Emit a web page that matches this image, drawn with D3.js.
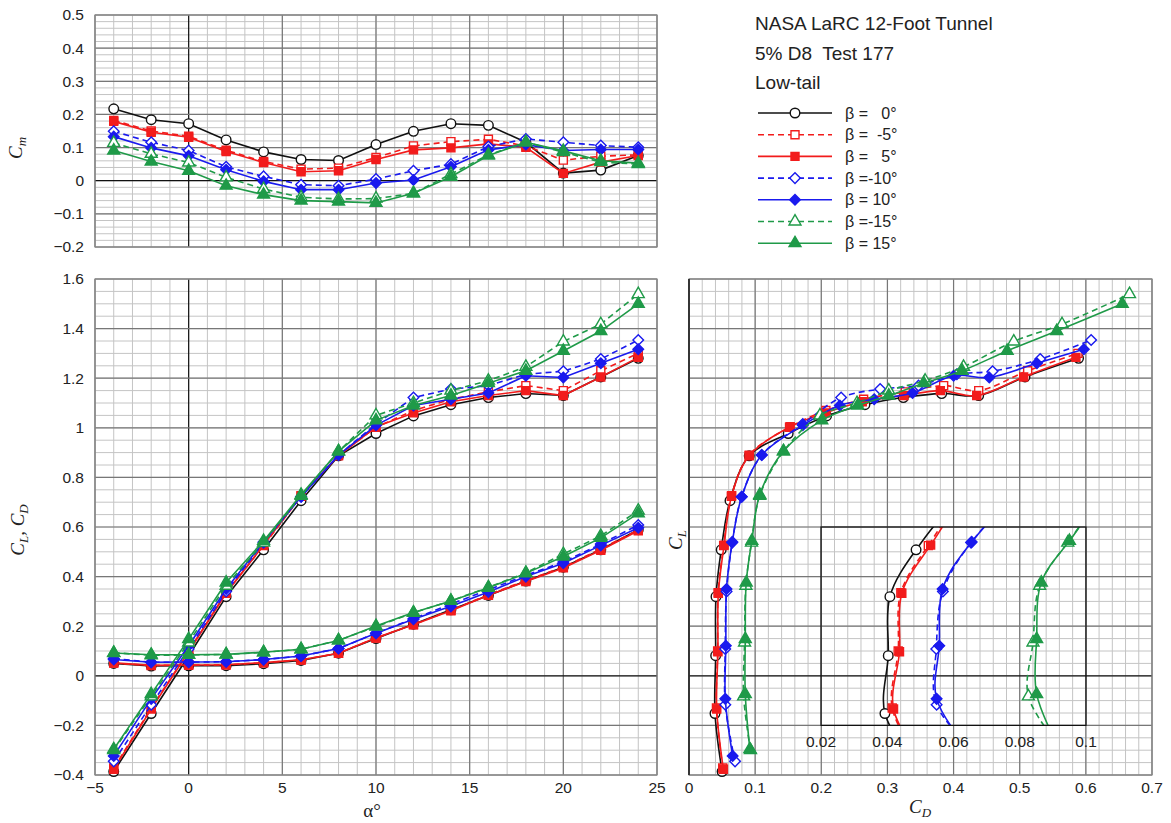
<!DOCTYPE html>
<html lang="en">
<head>
<meta charset="UTF-8">
<title>D8 Test 177 - Low-tail</title>
<style>
  * { margin: 0; padding: 0; }
  html, body { overflow: hidden; background: #fff; }
  text { font-family: 'Liberation Sans', Arial, sans-serif; fill: #222; }
</style>
</head>
<body>
<div id="chart"></div>
<script src="https://cdn.jsdelivr.net/npm/d3@7"></script>
<script>
// angle of attack, deg
const alphaDeg = [-4, -2, 0, 2, 4, 6, 8, 10, 12, 14, 16, 18, 20, 22, 24]

// series order: beta 0, -5, 5, -10, 10, -15, 15
const betaLabels = ['β =   0°', 'β =  -5°', 'β =   5°', 'β =-10°', 'β = 10°', 'β =-15°', 'β = 15°']

const cmSeries = [
    [0.217, 0.184, 0.172, 0.123, 0.087, 0.064, 0.061, 0.109, 0.149, 0.172, 0.167, 0.116, 0.023, 0.032, 0.076],
    [0.182, 0.150, 0.134, 0.092, 0.058, 0.035, 0.038, 0.070, 0.105, 0.118, 0.125, 0.105, 0.062, 0.074, 0.078],
    [0.179, 0.146, 0.131, 0.088, 0.055, 0.027, 0.030, 0.064, 0.093, 0.099, 0.111, 0.101, 0.022, 0.056, 0.076],
    [0.149, 0.116, 0.091, 0.042, 0.013, -0.012, -0.015, 0.005, 0.030, 0.050, 0.103, 0.126, 0.116, 0.106, 0.101],
    [0.133, 0.099, 0.075, 0.033, -0.002, -0.027, -0.027, -0.007, 0.002, 0.042, 0.093, 0.109, 0.091, 0.094, 0.094],
    [0.114, 0.081, 0.055, 0.010, -0.025, -0.050, -0.055, -0.054, -0.038, 0.020, 0.078, 0.116, 0.086, 0.056, 0.050],
    [0.091, 0.058, 0.030, -0.015, -0.042, -0.060, -0.063, -0.067, -0.038, 0.012, 0.076, 0.116, 0.090, 0.060, 0.053]
]

const clSeries = [
    [-0.386, -0.152, 0.081, 0.319, 0.508, 0.706, 0.887, 0.977, 1.048, 1.093, 1.122, 1.138, 1.130, 1.205, 1.280],
    [-0.372, -0.130, 0.100, 0.335, 0.525, 0.724, 0.890, 1.002, 1.070, 1.115, 1.145, 1.170, 1.150, 1.230, 1.300],
    [-0.377, -0.134, 0.097, 0.333, 0.527, 0.726, 0.887, 1.004, 1.060, 1.105, 1.130, 1.150, 1.130, 1.205, 1.284],
    [-0.345, -0.117, 0.108, 0.340, 0.537, 0.722, 0.890, 1.015, 1.122, 1.156, 1.170, 1.216, 1.228, 1.277, 1.354],
    [-0.323, -0.093, 0.121, 0.350, 0.540, 0.722, 0.890, 1.010, 1.090, 1.115, 1.140, 1.210, 1.203, 1.260, 1.317],
    [-0.300, -0.083, 0.134, 0.363, 0.537, 0.726, 0.905, 1.050, 1.100, 1.150, 1.190, 1.246, 1.348, 1.418, 1.539],
    [-0.296, -0.074, 0.148, 0.376, 0.544, 0.730, 0.905, 1.030, 1.090, 1.130, 1.180, 1.230, 1.310, 1.390, 1.500]
]

const cdSeries = [
    [0.050, 0.0393, 0.0403, 0.0408, 0.0487, 0.062, 0.091, 0.150, 0.208, 0.266, 0.324, 0.382, 0.438, 0.508, 0.589],
    [0.051, 0.0415, 0.0433, 0.0441, 0.0524, 0.064, 0.091, 0.152, 0.207, 0.264, 0.327, 0.385, 0.438, 0.512, 0.588],
    [0.052, 0.0419, 0.0437, 0.0444, 0.0531, 0.0646, 0.091, 0.153, 0.206, 0.262, 0.325, 0.380, 0.435, 0.506, 0.585],
    [0.0696, 0.0549, 0.0548, 0.0568, 0.0653, 0.0797, 0.110, 0.172, 0.230, 0.289, 0.347, 0.405, 0.459, 0.531, 0.608],
    [0.066, 0.0549, 0.0557, 0.0567, 0.0655, 0.0797, 0.110, 0.172, 0.228, 0.280, 0.338, 0.400, 0.454, 0.526, 0.597],
    [0.093, 0.0826, 0.0840, 0.0860, 0.0945, 0.107, 0.143, 0.198, 0.254, 0.302, 0.357, 0.415, 0.491, 0.564, 0.666],
    [0.092, 0.0851, 0.0851, 0.0865, 0.0950, 0.107, 0.1427, 0.2007, 0.255, 0.302, 0.355, 0.413, 0.481, 0.556, 0.655]
]

const alphaTicks = [-5, 0, 5, 10, 15, 20, 25]
const cmTicks = [-0.2, -0.1, 0, 0.1, 0.2, 0.3, 0.4, 0.5]
const clTicks = [-0.4, -0.2, 0, 0.2, 0.4, 0.6, 0.8, 1, 1.2, 1.4, 1.6]
const cdTicks = [0, 0.1, 0.2, 0.3, 0.4, 0.5, 0.6, 0.7]
const insetTicks = [0.02, 0.04, 0.06, 0.08, 0.1]
const titleLines = ['NASA LaRC 12-Foot Tunnel', '5% D8  Test 177', 'Low-tail']

const RED = '#f21c1c', BLUE = '#1a1aee', GREEN = '#1f9a48'
const styles = [
    { color: '#111', dash: null, shape: 'circle', open: true },
    { color: RED, dash: '6,4', shape: 'square', open: true },
    { color: RED, dash: null, shape: 'square', open: false },
    { color: BLUE, dash: '6,4', shape: 'diamond', open: true },
    { color: BLUE, dash: null, shape: 'diamond', open: false },
    { color: GREEN, dash: '6,4', shape: 'triangle', open: true },
    { color: GREEN, dash: null, shape: 'triangle', open: false }
]

function drawChart() {
    const width = 1171
    const height = 823
    const svg = d3.select('#chart')
        .append('svg')
        .attr('width', width)
        .attr('height', height)
        .style('background', '#fff')

    const xA = d3.scaleLinear().domain([-5, 25]).range([95, 657])
    const yCm = d3.scaleLinear().domain([-0.2, 0.5]).range([247, 15])
    const yCl = d3.scaleLinear().domain([-0.4, 1.6]).range([775, 279])
    const xCd = d3.scaleLinear().domain([0, 0.7]).range([689, 1152])
    const xIn = d3.scaleLinear().domain([0.02, 0.1]).range([821, 1086])
    const yIn = d3.scaleLinear().domain([-0.2, 0.6]).range([yCl(-0.2), yCl(0.6)])

    const steps = (lo, hi, step) => d3.range(0, Math.round((hi - lo) / step) + 1).map(i => +(lo + i * step).toFixed(6))

    function grid(x, y, xMinor, yMinor, xMajor, yMajor) {
        const g = svg.append('g')
        const [x0, x1] = x.domain(), [y0, y1] = y.domain()
        g.selectAll('line.vmin').data(steps(x0, x1, xMinor)).join('line')
            .attr('x1', d => x(d)).attr('x2', d => x(d)).attr('y1', y(y0)).attr('y2', y(y1))
            .attr('stroke', '#c4c4c4').attr('stroke-width', 1)
        g.selectAll('line.hmin').data(steps(y0, y1, yMinor)).join('line')
            .attr('y1', d => y(d)).attr('y2', d => y(d)).attr('x1', x(x0)).attr('x2', x(x1))
            .attr('stroke', '#c4c4c4').attr('stroke-width', 1)
        g.selectAll('line.vmaj').data(xMajor).join('line')
            .attr('x1', d => x(d)).attr('x2', d => x(d)).attr('y1', y(y0)).attr('y2', y(y1))
            .attr('stroke', d => d === 0 ? '#111' : '#777').attr('stroke-width', 1.2)
        g.selectAll('line.hmaj').data(yMajor).join('line')
            .attr('y1', d => y(d)).attr('y2', d => y(d)).attr('x1', x(x0)).attr('x2', x(x1))
            .attr('stroke', d => d === 0 ? '#111' : '#777').attr('stroke-width', 1.2)
        g.append('rect')
            .attr('x', x(x0)).attr('y', y(y1))
            .attr('width', x(x1) - x(x0)).attr('height', y(y0) - y(y1))
            .attr('fill', 'none').attr('stroke', '#8a8a8a').attr('stroke-width', 1.2)
    }

    grid(xA, yCm, 1, 0.02, alphaTicks, cmTicks)
    grid(xA, yCl, 1, 0.05, alphaTicks, clTicks)
    grid(xCd, yCl, 0.02, 0.05, cdTicks, clTicks)
    // left edge of the drag polar is the CD = 0 line
    svg.append('line')
        .attr('x1', xCd(0)).attr('x2', xCd(0)).attr('y1', yCl(-0.4)).attr('y2', yCl(1.6))
        .attr('stroke', '#111').attr('stroke-width', 1.3)

    // tick labels
    const fmt = d => d3.format('')(d)
    svg.append('g').selectAll('text').data(cmTicks).join('text')
        .attr('x', 84).attr('y', d => yCm(d)).attr('dy', '0.35em')
        .attr('text-anchor', 'end').style('font-size', '15.5px').text(fmt)
    svg.append('g').selectAll('text').data(clTicks).join('text')
        .attr('x', 84).attr('y', d => yCl(d)).attr('dy', '0.35em')
        .attr('text-anchor', 'end').style('font-size', '15.5px').text(fmt)
    svg.append('g').selectAll('text').data(alphaTicks).join('text')
        .attr('x', d => xA(d)).attr('y', 788).attr('dy', '0.35em')
        .attr('text-anchor', 'middle').style('font-size', '15.5px').text(fmt)
    svg.append('g').selectAll('text').data(cdTicks).join('text')
        .attr('x', d => xCd(d)).attr('y', 788).attr('dy', '0.35em')
        .attr('text-anchor', 'middle').style('font-size', '15.5px').text(fmt)

    // axis titles
    function symLabel(x, y, base, sub, rotate) {
        const t = svg.append('text')
            .attr('transform', `translate(${x},${y})` + (rotate ? ' rotate(-90)' : ''))
            .attr('text-anchor', 'middle')
            .style('font-family', "'Liberation Serif', 'Times New Roman', serif")
            .style('font-size', '19px').style('font-style', 'italic')
        base.forEach((b, i) => {
            t.append('tspan').text(b)
            t.append('tspan').text(sub[i]).style('font-size', '13px').attr('dy', 4)
            t.append('tspan').text(i < base.length - 1 ? ', ' : '').attr('dy', -4)
        })
    }
    symLabel(22, 148, ['C'], ['m'], true)
    symLabel(24, 530, ['C', 'C'], ['L', 'D'], true)
    symLabel(682, 540, ['C'], ['L'], true)
    symLabel(920, 813, ['C'], ['D'], false)
    svg.append('text').attr('x', 372).attr('y', 817).attr('text-anchor', 'middle')
        .style('font-family', "'Liberation Serif', 'Times New Roman', serif")
        .style('font-size', '19px').text('α°')

    // markers
    const shapeOf = { circle: d3.symbolCircle, square: d3.symbolSquare, diamond: d3.symbolSquare, triangle: d3.symbolTriangle }
    const sizeOf = { circle: 72, square: 64, diamond: 56, triangle: 62 }
    function markers(g, pts, st) {
        g.selectAll('path.m').data(pts).join('path')
            .attr('d', d3.symbol().type(shapeOf[st.shape]).size(sizeOf[st.shape]))
            .attr('transform', d => `translate(${d[0]},${d[1]})` + (st.shape === 'diamond' ? ' rotate(45)' : ''))
            .attr('fill', st.open ? '#fff' : st.color)
            .attr('stroke', st.color).attr('stroke-width', 1.4)
    }
    function series(g, pts, st, curve) {
        g.append('path')
            .attr('d', d3.line().curve(curve)(pts))
            .attr('fill', 'none').attr('stroke', st.color).attr('stroke-width', 1.6)
            .attr('stroke-dasharray', st.dash)
    }

    // Cm vs alpha
    styles.forEach((st, i) => {
        const g = svg.append('g')
        const pts = alphaDeg.map((a, j) => [xA(a), yCm(cmSeries[i][j])])
        series(g, pts, st, d3.curveLinear)
        markers(g, pts, st)
    })

    // CL and CD vs alpha
    styles.forEach((st, i) => {
        const g = svg.append('g')
        const pl = alphaDeg.map((a, j) => [xA(a), yCl(clSeries[i][j])])
        const pd = alphaDeg.map((a, j) => [xA(a), yCl(cdSeries[i][j])])
        series(g, pl, st, d3.curveLinear)
        series(g, pd, st, d3.curveLinear)
        markers(g, pl.concat(pd), st)
    })

    // drag polar
    styles.forEach((st, i) => {
        const g = svg.append('g')
        const pts = alphaDeg.map((a, j) => [xCd(cdSeries[i][j]), yCl(clSeries[i][j])])
        series(g, pts, st, d3.curveCatmullRom.alpha(0.5))
        markers(g, pts, st)
    })

    // inset: low-CL drag polar, expanded CD scale
    svg.append('clipPath').attr('id', 'inset-clip').append('rect')
        .attr('x', xIn(0.02)).attr('y', yIn(0.6))
        .attr('width', xIn(0.1) - xIn(0.02)).attr('height', yIn(-0.2) - yIn(0.6))
    const ins = svg.append('g').attr('clip-path', 'url(#inset-clip)')
    styles.forEach((st, i) => {
        const g = ins.append('g')
        const pts = alphaDeg.map((a, j) => [xIn(cdSeries[i][j]), yIn(clSeries[i][j])])
        series(g, pts, st, d3.curveCatmullRom.alpha(0.5))
        const inside = alphaDeg.map((a, j) => [cdSeries[i][j], clSeries[i][j]])
            .filter(d => d[0] >= 0.02 && d[0] <= 0.1 && d[1] >= -0.2 && d[1] <= 0.6)
            .map(d => [xIn(d[0]), yIn(d[1])])
        markers(g, inside, st)
    })
    svg.append('rect')
        .attr('x', xIn(0.02)).attr('y', yIn(0.6))
        .attr('width', xIn(0.1) - xIn(0.02)).attr('height', yIn(-0.2) - yIn(0.6))
        .attr('fill', 'none').attr('stroke', '#111').attr('stroke-width', 1.2)
    svg.append('g').selectAll('text').data(insetTicks).join('text')
        .attr('x', d => xIn(d)).attr('y', yIn(-0.2) + 16).attr('dy', '0.35em')
        .attr('text-anchor', 'middle').style('font-size', '15.5px').text(fmt)

    // title and legend
    svg.append('g').selectAll('text').data(titleLines).join('text')
        .attr('x', 755).attr('y', (d, i) => 30 + i * 29.5)
        .style('font-size', '19px').style('white-space', 'pre').text(d => d)
    const leg = svg.append('g')
    styles.forEach((st, i) => {
        const y = 113 + i * 21.7
        const g = leg.append('g')
        g.append('line').attr('x1', 758).attr('x2', 832).attr('y1', y).attr('y2', y)
            .attr('stroke', st.color).attr('stroke-width', 1.6).attr('stroke-dasharray', st.dash)
        markers(g, [[795, y]], st)
        g.append('text').attr('x', 845).attr('y', y).attr('dy', '0.35em')
            .style('font-size', '16px').style('white-space', 'pre').text(betaLabels[i])
    })
}

drawChart()
</script>
</body>
</html>
